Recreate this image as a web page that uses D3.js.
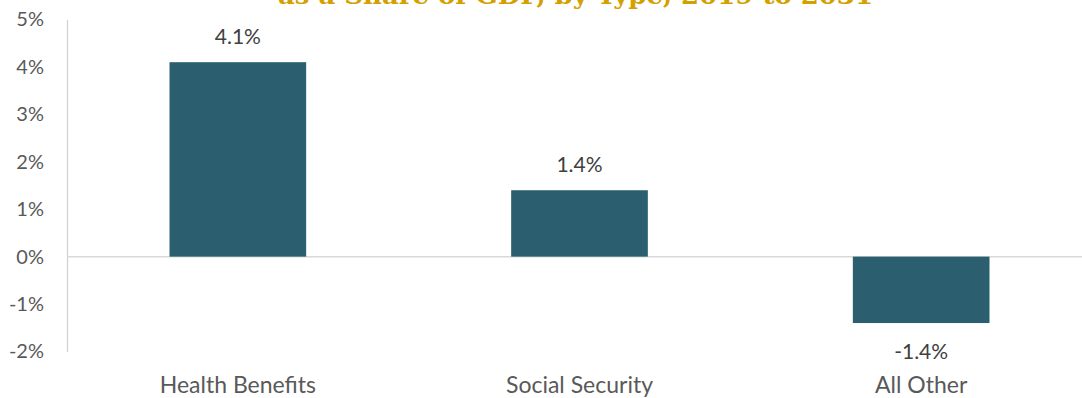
<!DOCTYPE html>
<html>
<head>
<meta charset="utf-8">
<script src="https://cdn.jsdelivr.net/npm/d3@7"></script>
<style>
	body { margin: 0; background: #fff; }
	svg { display: block; }
	.tick text { font-family: Lato, sans-serif; fill: #595959; }
</style>
</head>
<body>
<div id="chart"></div>
<script>
// chart values
const categories = ["Health Benefits", "Social Security", "All Other"];
const values = [4.1, 1.4, -1.4];
const yTicks = [-2, -1, 0, 1, 2, 3, 4, 5];
const titleText = "as a Share of GDP, by Type, 2019 to 2031";

const width = 1082, height = 398;
const svg = d3.select("#chart").append("svg").attr("width", width).attr("height", height);

const x = d3.scaleBand().domain(categories).range([67, 1092]).paddingInner(0.6).paddingOuter(0.3);
const y = d3.scaleLinear().domain([-2, 5]).range([351.5, 19.5]);

// title (clipped at the top, as in the picture)
svg.append("text")
	.attr("x", 278).attr("y", 4)
	.attr("textLength", 595).attr("lengthAdjust", "spacingAndGlyphs")
	.style("font-family", "'DejaVu Serif', serif").style("font-weight", "bold")
	.style("font-size", "24px").style("fill", "#D4A000")
	.text(titleText);

// y axis
const yAxis = svg.append("g").attr("transform", "translate(67,0)")
	.call(d3.axisLeft(y).tickValues(yTicks).tickSize(0).tickPadding(23).tickFormat(d => d + "%"));
yAxis.select(".domain").attr("stroke", "#d0d0d0").attr("stroke-width", 1.2);
yAxis.selectAll(".tick text").style("font-size", "20px");

// zero line
svg.append("line")
	.attr("x1", 67).attr("x2", width)
	.attr("y1", y(0)).attr("y2", y(0))
	.attr("stroke", "#d9d9d9").attr("stroke-width", 1.5);

// bars
svg.selectAll("rect.bar").data(values).enter().append("rect")
	.attr("class", "bar")
	.attr("x", (d, i) => x(categories[i]))
	.attr("width", x.bandwidth())
	.attr("y", d => y(Math.max(0, d)))
	.attr("height", d => Math.abs(y(d) - y(0)))
	.attr("fill", "#2B5F6F");

// value labels
svg.selectAll("text.val").data(values).enter().append("text")
	.attr("class", "val")
	.attr("x", (d, i) => x(categories[i]) + x.bandwidth() / 2)
	.attr("y", d => d >= 0 ? y(d) - 18 : y(d) + 36)
	.attr("text-anchor", "middle")
	.style("font-family", "Lato, sans-serif").style("font-size", "21px").style("fill", "#404040")
	.text(d => d.toFixed(1) + "%");

// category labels
svg.selectAll("text.cat").data(categories).enter().append("text")
	.attr("class", "cat")
	.attr("x", d => x(d) + x.bandwidth() / 2)
	.attr("y", 393)
	.attr("text-anchor", "middle")
	.style("font-family", "Lato, sans-serif").style("font-size", "23px").style("fill", "#595959")
	.text(d => d);
</script>
</body>
</html>
